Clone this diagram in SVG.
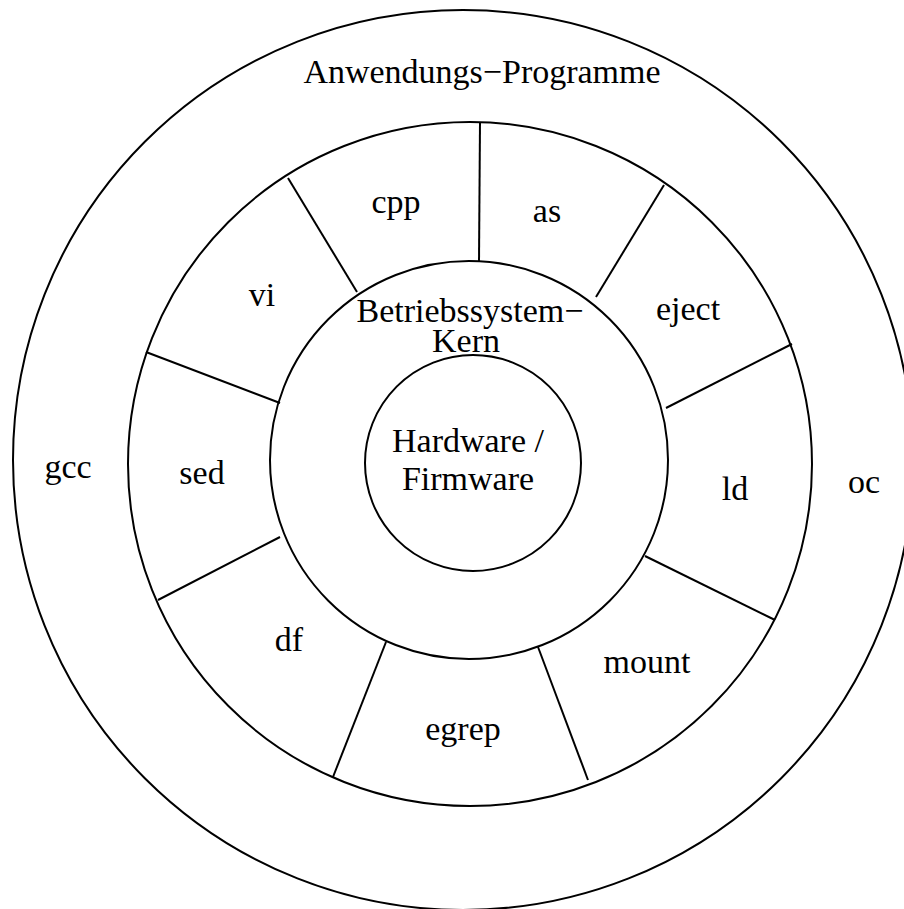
<svg xmlns="http://www.w3.org/2000/svg" width="904" height="909" viewBox="0 0 904 909">
<style>
.c{fill:none;stroke:#000;stroke-width:2}
.l{stroke:#000;stroke-width:2;fill:none}
text{font-family:"Liberation Serif","Times New Roman",serif;font-size:34px;fill:#000;text-anchor:middle}
</style>
<rect width="904" height="909" fill="#fff"/>
<g id="anwendungen"><circle class="c" cx="463" cy="460" r="450"/><text x="482" y="83">Anwendungs−Programme</text></g>
<g id="gcc"><text x="68" y="478">gcc</text></g>
<g id="oc"><text x="864" y="493">oc</text></g>
<g id="tools-ring"><circle class="c" cx="470" cy="464" r="342"/></g>
<g id="kern"><circle class="c" cx="469" cy="460" r="199"/><text x="470" y="322">Betriebssystem−</text><text x="466" y="352">Kern</text></g>
<g id="hardware"><circle class="c" cx="473" cy="463" r="108"/><text x="468" y="452">Hardware /</text><text x="468" y="490">Firmware</text></g>
<g id="cpp"><text x="396" y="213">cpp</text></g>
<g id="as"><text x="547" y="222">as</text></g>
<g id="eject"><text x="688" y="320">eject</text></g>
<g id="ld"><text x="735" y="500">ld</text></g>
<g id="mount"><text x="647" y="673">mount</text></g>
<g id="egrep"><text x="463" y="740">egrep</text></g>
<g id="df"><text x="289" y="651">df</text></g>
<g id="sed"><text x="202" y="484">sed</text></g>
<g id="vi"><text x="262" y="306">vi</text></g>
<g id="connectors">
<line class="l" x1="480" y1="122" x2="479" y2="262"/>
<line class="l" x1="664" y1="185" x2="596" y2="297"/>
<line class="l" x1="792" y1="344" x2="666" y2="408"/>
<line class="l" x1="775" y1="620" x2="645" y2="556"/>
<line class="l" x1="588" y1="780" x2="538" y2="647"/>
<line class="l" x1="333" y1="777" x2="386" y2="642"/>
<line class="l" x1="158" y1="600" x2="280" y2="537"/>
<line class="l" x1="146" y1="352" x2="280" y2="403"/>
<line class="l" x1="288" y1="178" x2="357" y2="292"/>
</g>
</svg>
